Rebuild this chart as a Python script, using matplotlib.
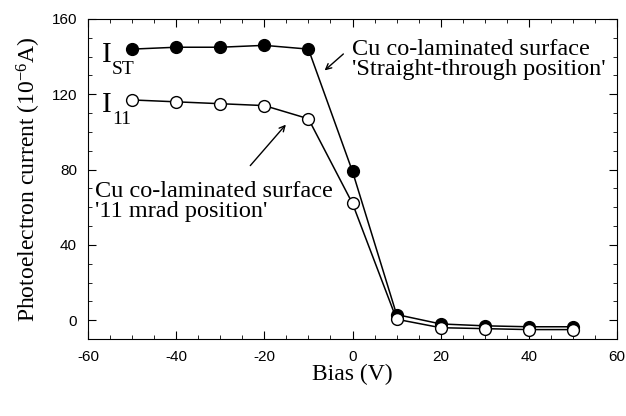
import matplotlib.pyplot as plt
from matplotlib.ticker import MultipleLocator

bias = [-50, -40, -30, -20, -10, 0, 10, 20, 30, 40, 50]
i_st = [144, 145, 145, 146, 144, 79, 3, -2, -3, -3.5, -3.5]
i_11 = [117, 116, 115, 114, 107, 62, 0.5, -4, -4.5, -5, -5]

plt.rcParams["font.family"] = "Liberation Serif"
plt.rcParams["mathtext.fontset"] = "custom"
plt.rcParams["mathtext.rm"] = "Liberation Serif"
plt.rcParams["mathtext.it"] = "Liberation Serif:italic"
plt.rcParams["axes.unicode_minus"] = False

fig = plt.figure(figsize=(6.26, 4.16), dpi=100)
ax = fig.add_axes([88 / 626, (416 - 339) / 416, 529 / 626, 320 / 416])

ax.plot(bias, i_st, "-o", color="black", mfc="black", ms=8.5, lw=1.1)
ax.plot(bias, i_11, "-o", color="black", mfc="white", ms=8.5, lw=1.1)

ax.set_xlim(-60, 60)
ax.set_ylim(-10, 160)
ax.xaxis.set_major_locator(MultipleLocator(20))
ax.xaxis.set_minor_locator(MultipleLocator(5))
ax.yaxis.set_major_locator(MultipleLocator(40))
ax.yaxis.set_minor_locator(MultipleLocator(10))
ax.tick_params(which="both", direction="in", top=True, right=True)
ax.tick_params(which="major", length=6, labelsize=11, pad=8)
ax.tick_params(which="minor", length=3)
for lab in ax.get_xticklabels() + ax.get_yticklabels():
    lab.set_fontfamily("Liberation Sans")

ax.set_xlabel("Bias (V)", fontsize=17, labelpad=0)
ax.set_ylabel("Photoelectron current (10$^{-6}$A)", fontsize=17, labelpad=6)

# curve labels: big I with a lowered subscript
for ytxt, sub in [(137, "ST"), (110.5, "11")]:
    t = ax.text(-56.8, ytxt, "I", fontsize=21, va="baseline")
    ax.annotate(sub, xy=(1, 0), xycoords=t, xytext=(0, 5),
                textcoords="offset points", fontsize=14, va="top")

ax.annotate("", xy=(-6.8, 131.7), xytext=(-1.6, 142.4),
            arrowprops=dict(arrowstyle="->", lw=1))
ax.text(-0.2, 138.5, "Cu co-laminated surface\n'Straight-through position'",
        fontsize=17.5, linespacing=0.95, va="center")

ax.annotate("", xy=(-14.7, 105), xytext=(-23.6, 81),
            arrowprops=dict(arrowstyle="->", lw=1))
ax.text(-58.5, 63, "Cu co-laminated surface\n'11 mrad position'",
        fontsize=17.5, linespacing=0.95, va="center")

fig.savefig("out.png", dpi=100)
